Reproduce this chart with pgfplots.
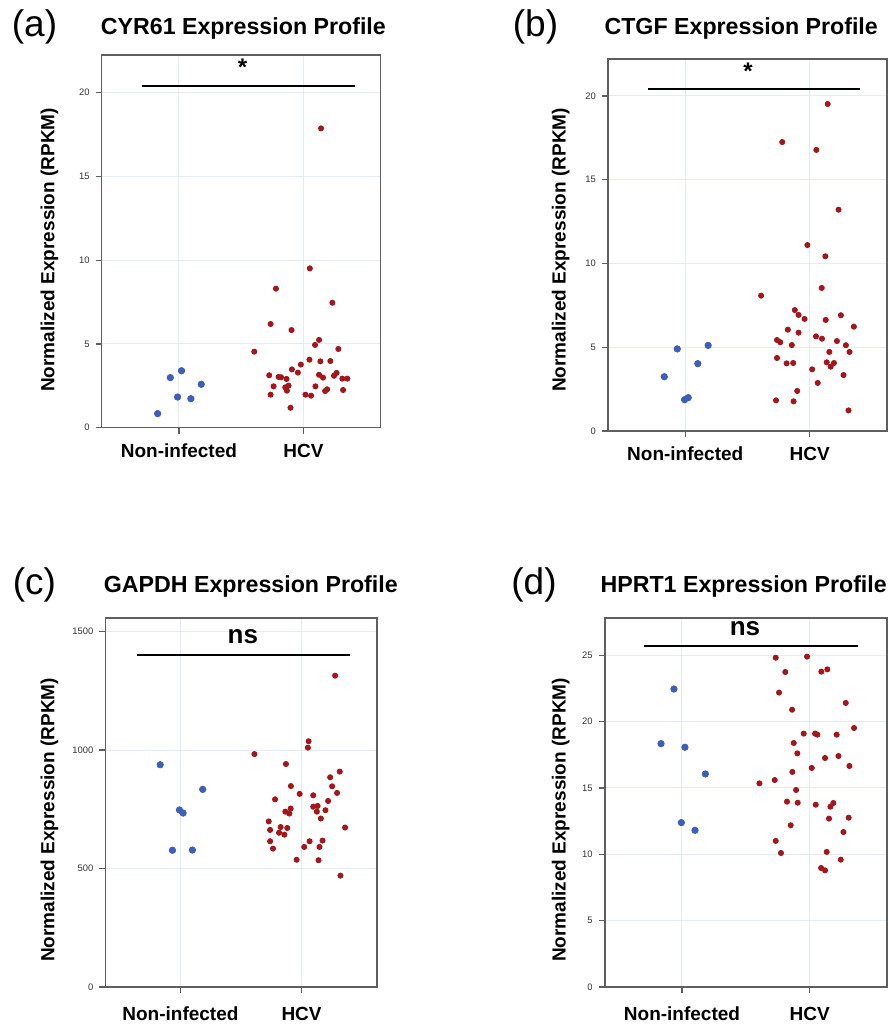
\documentclass[border=0pt]{standalone}
\usepackage{fontspec}
\setmainfont{Liberation Sans}
\usepackage{pgfplots}
\pgfplotsset{compat=1.18}
\definecolor{niblue}{HTML}{3D5EBA}
\definecolor{hcvred}{HTML}{A5161A}
\definecolor{gridblue}{HTML}{E3EBF8}
\definecolor{framegray}{HTML}{5F5F5F}

\pgfplotsset{
  expr panel/.style={
    scale only axis,
    anchor=north west,
    xmin=-0.62, xmax=1.62, ymin=0,
    xtick={0,1}, xticklabels={Non-infected,HCV},
    axis line style={draw=framegray, line width=0.8pt},
    tick style={draw=framegray, line width=0.6pt},
    tick align=outside,
    major tick length=3pt,
    xtick pos=lower, ytick pos=left,
    grid=major,
    major grid style={draw=gridblue, line width=0.5pt},
    yticklabel style={font=\fontsize{4.7}{5}\selectfont, text=black!80, xshift=0.5pt,
      /pgf/number format/1000 sep={}},
    xticklabel style={font=\fontsize{9.5}{11}\selectfont\bfseries, anchor=base, yshift=-11.8pt},
    /pgf/number format/assume math mode=true,
    clip=false,
  },
  ni/.style={only marks, mark=*, mark size=1.6pt, color=niblue},
  hcv/.style={only marks, mark=*, mark size=1.3pt, color=hcvred},
  sigbar/.style={no marks, black, line width=1pt},
}
\newcommand{\paneltitle}{\fontsize{11.6}{13}\selectfont\bfseries}
\newcommand{\panelletter}{\fontsize{18.5}{21}\selectfont}
\newcommand{\ylab}{\fontsize{9.5}{11}\selectfont\bfseries Normalized Expression (RPKM)}

\begin{document}
\begin{tikzpicture}
\useasboundingbox (0,0) rectangle (444pt,512pt);

% (a) CYR61
\node[anchor=base] at (17.25pt,493.7pt) {\panelletter (a)};
\node[anchor=base] at (121.7pt,494.9pt) {\paneltitle CYR61 Expression Profile};
\node[rotate=90] at (24.7pt,387pt) {\ylab};
\begin{axis}[expr panel, at={(50.85pt,484.5pt)}, width=139.5pt, height=186.35pt,
  ymax=22.25, ytick={0,5,10,15,20}]
\addplot[ni] coordinates {(-0.171,0.84) (-0.069,2.99) (0.021,3.40) (-0.011,1.83) (0.096,1.73) (0.179,2.59)};
\addplot[hcv] coordinates {
(1.141,17.87) (1.051,9.51) (0.779,8.30) (1.232,7.46) (0.736,6.19) (0.904,5.83)
(1.125,5.24) (1.093,4.94) (0.605,4.54) (1.280,4.70) (1.048,4.06) (1.136,3.96)
(1.216,3.98) (0.979,3.77) (0.907,3.48) (0.955,3.29) (0.725,3.13) (0.800,3.03)
(0.820,3.01) (0.864,2.91) (1.125,3.16) (1.157,2.99) (1.245,3.10) (1.266,3.27)
(1.312,2.93) (1.352,2.93) (0.760,2.47) (0.854,2.41) (0.880,2.51) (0.867,2.21)
(1.096,2.47) (1.190,2.29) (1.174,2.19) (1.318,2.25) (0.736,1.97) (1.016,1.97)
(1.061,1.91) (0.896,1.19)};
\addplot[sigbar] coordinates {(-0.294,20.4) (1.414,20.4)};
\node at (axis cs:0.51,21.5) {\fontsize{12}{14}\selectfont\bfseries *};
\end{axis}

% (b) CTGF
\node[anchor=base] at (267.75pt,493.7pt) {\panelletter (b)};
\node[anchor=base] at (370.6pt,494.9pt) {\paneltitle CTGF Expression Profile};
\node[rotate=90] at (280.3pt,387pt) {\ylab};
\begin{axis}[expr panel, at={(304pt,482.35pt)}, width=139.5pt, height=185.85pt,
  ymax=22.19, ytick={0,5,10,15,20}]
\addplot[ni] coordinates {(-0.168,3.24) (-0.064,4.90) (-0.005,1.87) (0.024,1.99) (0.101,4.02) (0.184,5.11)};
\addplot[hcv] coordinates {
(1.144,19.52) (0.779,17.25) (1.053,16.78) (1.231,13.21) (0.981,11.10) (1.125,10.43)
(1.096,8.54) (0.609,8.08) (0.880,7.22) (0.910,6.93) (0.958,6.69) (1.250,6.91)
(1.128,6.63) (1.354,6.23) (0.824,6.05) (0.910,5.87) (1.050,5.65) (1.098,5.51)
(0.737,5.43) (0.763,5.30) (0.856,5.13) (1.218,5.37) (1.290,5.12) (1.319,4.72)
(1.157,4.72) (0.737,4.36) (0.814,4.04) (0.867,4.06) (1.136,4.10) (1.194,4.06)
(1.168,3.84) (1.019,3.68) (1.271,3.34) (1.064,2.87) (0.899,2.39) (0.729,1.83)
(0.870,1.77) (1.311,1.23)};
\addplot[sigbar] coordinates {(-0.298,20.4) (1.404,20.4)};
\node at (axis cs:0.505,21.45) {\fontsize{12}{14}\selectfont\bfseries *};
\end{axis}

% (c) GAPDH
\node[anchor=base] at (17.25pt,214.5pt) {\panelletter (c)};
\node[anchor=base] at (125.4pt,215.8pt) {\paneltitle GAPDH Expression Profile};
\node[rotate=90] at (24.7pt,102pt) {\ylab};
\begin{axis}[expr panel, at={(52.65pt,202.85pt)}, width=135.7pt, height=184.35pt,
  ymax=1556, ytick={0,500,1000,1500},
  xticklabel style={yshift=-1.9pt}]
\addplot[ni] coordinates {(-0.167,938) (-0.008,747) (0.022,734) (0.184,834) (-0.066,577) (0.099,578)};
\addplot[hcv] coordinates {
(1.277,1314) (1.058,1037) (1.052,1010) (0.611,983) (0.871,941) (1.315,909)
(1.236,885) (0.912,848) (1.252,847) (0.984,815) (1.293,819) (1.096,809)
(0.781,792) (1.219,785) (1.096,761) (1.132,764) (0.910,753) (0.866,740)
(0.899,732) (1.126,740) (1.197,746) (0.729,699) (1.159,711) (0.827,675)
(0.882,671) (1.359,673) (0.740,663) (0.814,651) (0.858,643) (0.740,615)
(1.066,615) (1.173,618) (0.764,584) (1.022,591) (1.148,591) (0.959,537)
(1.140,535) (1.321,470)};
\addplot[sigbar] coordinates {(-0.356,1399) (1.397,1399)};
\node at (axis cs:0.515,1479) {\fontsize{13}{15}\selectfont\bfseries ns};
\end{axis}

% (d) HPRT1
\node[anchor=base] at (267pt,214.5pt) {\panelletter (d)};
\node[anchor=base east, inner sep=0pt] at (443.6pt,215.8pt) {\paneltitle HPRT1 Expression Profile};
\node[rotate=90] at (280.3pt,102pt) {\ylab};
\begin{axis}[expr panel, at={(302.35pt,202.85pt)}, width=141.15pt, height=184.35pt,
  xmin=-0.605, xmax=1.605,
  ymax=27.79, ytick={0,5,10,15,20,25},
  xticklabel style={yshift=-1.9pt}]
\addplot[ni] coordinates {(-0.063,22.46) (-0.164,18.34) (0.023,18.07) (0.183,16.06) (-0.005,12.39) (0.102,11.81)};
\addplot[hcv] coordinates {
(0.734,24.82) (0.979,24.90) (0.809,23.74) (1.091,23.77) (1.138,23.94) (0.760,22.19)
(1.282,21.41) (0.862,20.90) (0.953,19.10) (1.042,19.10) (1.060,19.02) (1.211,19.02)
(1.347,19.52) (0.875,18.39) (0.903,17.61) (1.225,17.41) (1.120,17.26) (1.016,16.51)
(1.311,16.66) (0.864,16.21) (0.606,15.35) (0.726,15.60) (0.893,14.85) (0.822,13.97)
(0.906,13.89) (1.047,13.74) (1.185,13.87) (1.162,13.59) (1.151,12.69) (1.305,12.76)
(0.851,12.19) (1.264,11.68) (0.734,11.01) (0.775,10.10) (1.133,10.18) (1.243,9.60)
(1.089,8.97) (1.120,8.79)};
\addplot[sigbar] coordinates {(-0.298,25.7) (1.379,25.7)};
\node at (axis cs:0.493,27.0) {\fontsize{13}{15}\selectfont\bfseries ns};
\end{axis}
\end{tikzpicture}
\end{document}
